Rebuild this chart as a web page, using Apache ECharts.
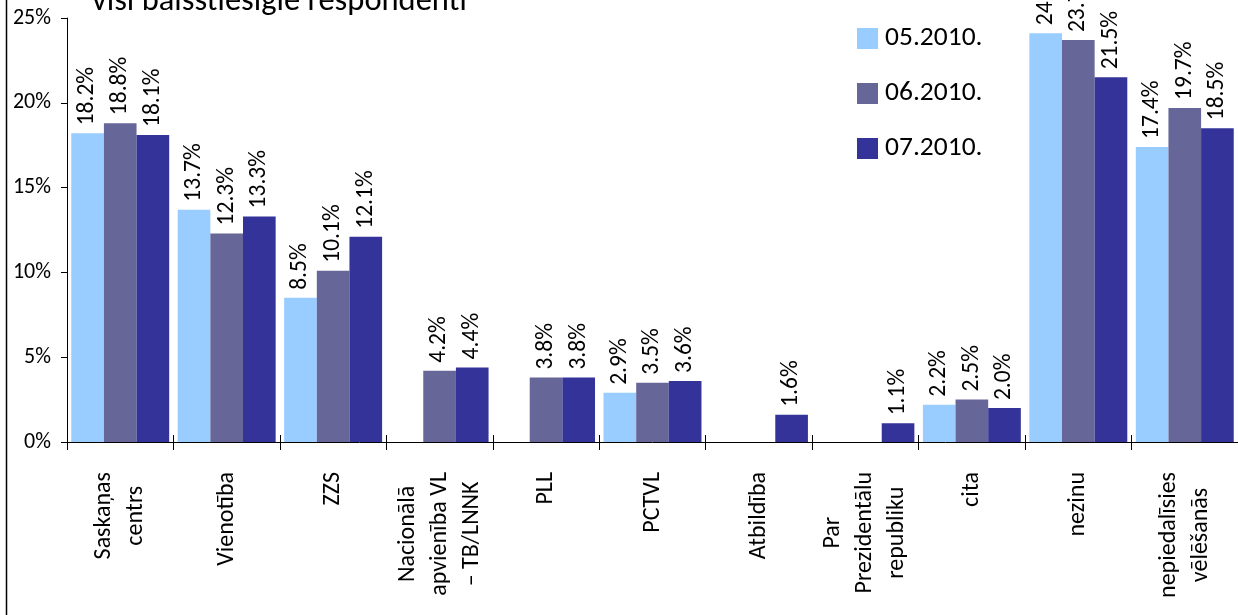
<!DOCTYPE html>
<html>
<head>
<meta charset="utf-8">
<script src="https://cdn.jsdelivr.net/npm/echarts@6/dist/echarts.min.js"></script>
<style>
html,body{margin:0;padding:0;background:#fff;}
#c{width:1238px;height:615px;}
</style>
</head>
<body>
<div id="c"></div>
<script>
const titleText = 'visi balsstiesīgie respondenti';
const categories = ['Saskaņas\ncentrs', 'Vienotība', 'ZZS', 'Nacionālā\napvienība VL\n– TB/LNNK', 'PLL', 'PCTVL', 'Atbildība', 'Par\nPrezidentālu\nrepubliku', 'cita', 'nezinu', 'nepiedalīsies\nvēlēšanās'];
const seriesNames = ['05.2010.', '06.2010.', '07.2010.'];
const may2010 = [18.2, 13.7, 8.5, null, null, 2.9, null, null, 2.2, 24.1, 17.4];
const jun2010 = [18.8, 12.3, 10.1, 4.2, 3.8, 3.5, null, null, 2.5, 23.7, 19.7];
const jul2010 = [18.1, 13.3, 12.1, 4.4, 3.8, 3.6, 1.6, 1.1, 2.0, 21.5, 18.5];
const yTicks = [0, 5, 10, 15, 20, 25];

const FONT = 'Calibri, Carlito, Roboto, sans-serif';
const colors = ['#99CCFF', '#666699', '#333399'];

const chart = echarts.init(document.getElementById('c'), null, {renderer: 'canvas'});

function mkSeries(name, data, color) {
  return {
    name: name,
    type: 'bar',
    data: data,
    barGap: '0%',
    barCategoryGap: '8%',
    itemStyle: {color: color},
    label: {
      show: true,
      position: 'top',
      rotate: 90,
      align: 'left',
      verticalAlign: 'middle',
      distance: 8,
      fontFamily: FONT,
      fontSize: 23.5,
      color: '#000',
      formatter: p => (p.value == null ? '' : p.value.toFixed(1) + '%')
    }
  };
}

chart.setOption({
  animation: false,
  backgroundColor: '#fff',
  title: {
    text: titleText,
    left: 92,
    top: -14,
    padding: 0,
    textStyle: {fontFamily: FONT, fontSize: 32.5, fontWeight: 'normal', color: '#000', lineHeight: 32}
  },
  legend: {
    orient: 'vertical',
    left: 857,
    top: 23,
    padding: 0,
    itemWidth: 21,
    itemHeight: 21,
    itemGap: 24,
    icon: 'rect',
    data: seriesNames,
    textStyle: {fontFamily: FONT, fontSize: 27.5, color: '#000', lineHeight: 31, padding: [0, 0, 0, 2]}
  },
  grid: {left: 67, right: -7, top: 18, bottom: 173, containLabel: false},
  xAxis: [{
    type: 'category',
    data: categories,
    axisLine: {show: true, lineStyle: {color: '#000', width: 1}},
    axisTick: {show: true, length: 8, lineStyle: {color: '#000'}},
    axisLabel: {
      interval: 0,
      rotate: 90,
      margin: 30,
      fontFamily: FONT,
      fontSize: 24,
      color: '#000',
      lineHeight: 32,
      formatter: v => v.split('\n').map(s => '{c|' + s + '}').join('\n'),
      rich: {c: {align: 'center', fontFamily: FONT, fontSize: 24, color: '#000', lineHeight: 32}}
    }
  }, {
    type: 'category',
    data: categories,
    position: 'bottom',
    axisLine: {show: false},
    axisTick: {show: true, inside: true, length: 7, lineStyle: {color: '#000'}},
    axisLabel: {show: false},
    splitLine: {show: false}
  }],
  yAxis: {
    type: 'value',
    min: yTicks[0],
    max: yTicks[yTicks.length - 1],
    interval: 5,
    axisLine: {show: true, lineStyle: {color: '#000', width: 1}},
    axisTick: {show: true, length: 6, lineStyle: {color: '#000'}},
    splitLine: {show: false},
    axisLabel: {formatter: '{value}%', fontFamily: FONT, fontSize: 22, color: '#000', margin: 16}
  },
  graphic: [{
    type: 'line',
    shape: {x1: 6.5, y1: 0, x2: 6.5, y2: 615},
    style: {stroke: '#000', lineWidth: 1.5}
  }],
  series: [
    mkSeries(seriesNames[0], may2010, colors[0]),
    mkSeries(seriesNames[1], jun2010, colors[1]),
    mkSeries(seriesNames[2], jul2010, colors[2])
  ]
});
</script>
</body>
</html>
